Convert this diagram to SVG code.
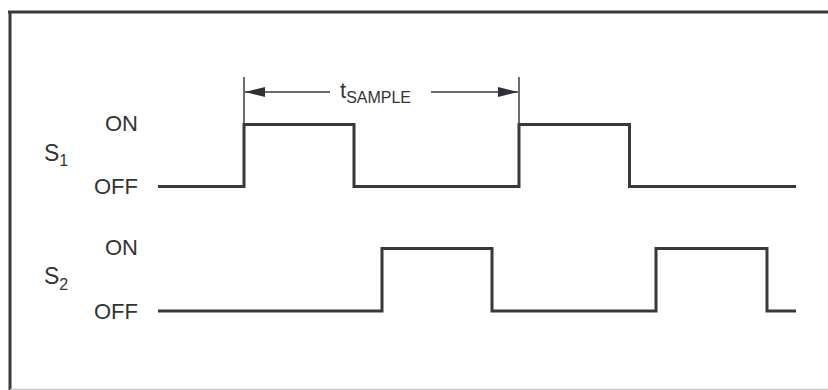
<svg xmlns="http://www.w3.org/2000/svg" width="828" height="390" viewBox="0 0 828 390">
<defs>
<marker id="ah" viewBox="0 0 20 10" refX="20" refY="5" markerWidth="20" markerHeight="10" markerUnits="userSpaceOnUse" orient="auto">
<path d="M0,0 L20,5 L0,10 Z" fill="#2f2f35"/>
</marker>
<style>
.wave{fill:none;stroke:#38383f;stroke-width:3;stroke-linejoin:miter}
.dim{fill:none;stroke:#3a3a40;stroke-width:1.5}
.lbl{font-family:"Liberation Sans",Arial,sans-serif;font-size:22px;fill:#333}
.sig{font-size:23px}
.sub{font-size:16px}
</style>
</defs>
<rect width="828" height="390" fill="#fff"/>
<g id="frame">
<line x1="8" y1="12" x2="828" y2="12" stroke="#3a3a40" stroke-width="3"/>
<line x1="10" y1="11" x2="10" y2="390" stroke="#3a3a40" stroke-width="3"/>
<line x1="10" y1="389.5" x2="828" y2="389.5" stroke="#c8c8c8" stroke-width="1.5"/>
</g>
<g id="connectors">
<path id="s1-wave" class="wave" d="M158,186.5 H244 V124.5 H354 V186.5 H519 V124.5 H629.5 V186.5 H796"/>
<path id="s2-wave" class="wave" d="M158,311 H382 V248.5 H492 V311 H656 V248.5 H767 V311 H796"/>
<line class="dim" x1="244" y1="77" x2="244" y2="124"/>
<line class="dim" x1="519" y1="77" x2="519" y2="124"/>
<line class="dim" x1="330" y1="92" x2="245" y2="92" marker-end="url(#ah)"/>
<line class="dim" x1="431" y1="92" x2="518" y2="92" marker-end="url(#ah)"/>
</g>
<g id="tsample">
<text class="lbl" x="340" y="98">t<tspan class="sub" dy="5">SAMPLE</tspan></text>
</g>
<g id="s1-labels">
<text class="lbl" x="138" y="131" text-anchor="end">ON</text>
<text class="lbl" x="138" y="194" text-anchor="end">OFF</text>
<text class="lbl sig" x="44" y="161">S<tspan class="sub" dy="5">1</tspan></text>
</g>
<g id="s2-labels">
<text class="lbl" x="138" y="255" text-anchor="end">ON</text>
<text class="lbl" x="138" y="319" text-anchor="end">OFF</text>
<text class="lbl sig" x="44" y="284">S<tspan class="sub" dy="6">2</tspan></text>
</g>
</svg>
